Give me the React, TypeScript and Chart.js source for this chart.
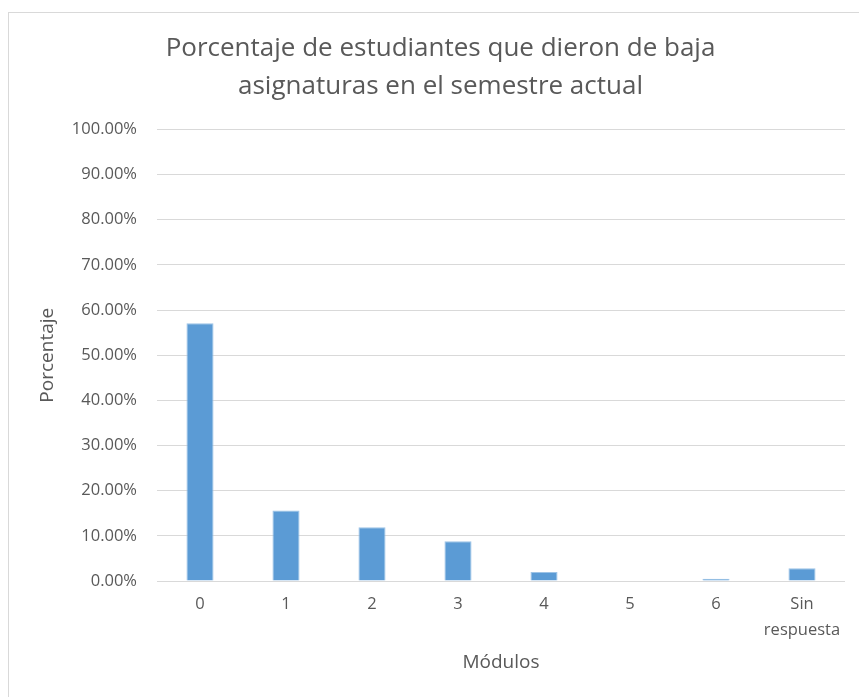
import React, { useEffect, useRef } from "react";
import { Chart, registerables } from "chart.js";

Chart.register(...registerables);

const categories: (string | string[])[] = ["0", "1", "2", "3", "4", "5", "6", ["Sin", "respuesta"]];
const percentages: number[] = [57.1, 15.6, 11.9, 8.8, 2.0, 0, 0.5, 2.8];
const titleLines: string[] = ["Porcentaje de estudiantes que dieron de baja", "asignaturas en el semestre actual"];
const xTitle = "Módulos";
const yTitle = "Porcentaje";

const FONT = "'Open Sans', 'Noto Sans', sans-serif";
const TEXT = "#595959";

export default function App() {
  const ref = useRef<HTMLCanvasElement | null>(null);
  useEffect(() => {
    if (!ref.current) return;
    const chart = new Chart(ref.current, {
      type: "bar",
      data: {
        labels: categories,
        datasets: [
          {
            data: percentages,
            backgroundColor: "#5b9bd5",
            borderColor: "#9dc3e6",
            borderWidth: 1,
            barPercentage: 0.63,
            categoryPercentage: 0.5,
          },
        ],
      },
      options: {
        animation: false,
        responsive: false,
        maintainAspectRatio: false,
        layout: { padding: { left: 36, right: 14, top: 10, bottom: 20 } },
        plugins: {
          legend: { display: false },
          tooltip: { enabled: false },
          title: {
            display: true,
            text: titleLines,
            color: TEXT,
            font: { family: FONT, size: 26, weight: "normal", lineHeight: 1.47 },
            padding: { top: 19, bottom: 24 },
          },
        },
        scales: {
          x: {
            grid: { display: false, drawTicks: false },
            border: { display: false },
            ticks: {
              color: TEXT,
              font: { family: FONT, size: 16.5, lineHeight: 1.55 },
              padding: 11,
              maxRotation: 0,
              autoSkip: false,
            },
            title: {
              display: true,
              text: xTitle,
              color: TEXT,
              font: { family: FONT, size: 19 },
              padding: { top: 0, bottom: 3 },
            },
            afterFit: (s: any) => {
              s.height = 96;
            },
          },
          y: {
            min: 0,
            max: 100,
            grid: { color: "#d9d9d9", drawTicks: false },
            border: { display: false },
            ticks: {
              stepSize: 10,
              color: TEXT,
              font: { family: FONT, size: 16.5 },
              padding: 20,
              callback: (v: any) => Number(v).toFixed(2) + "%",
            },
            title: {
              display: true,
              text: yTitle,
              color: TEXT,
              font: { family: FONT, size: 19 },
              padding: { top: 0, bottom: 0 },
            },
            afterFit: (s: any) => {
              s.width = 121;
            },
          },
        },
      },
    });
    return () => chart.destroy();
  }, []);
  return (
    <div style={{ position: "fixed", left: 0, top: 0, width: 859, height: 697, background: "#fff" }}>
      <div
        style={{
          position: "absolute",
          left: 8,
          top: 12,
          right: 0,
          bottom: 0,
          borderLeft: "1px solid #d9d9d9",
          borderTop: "1px solid #d9d9d9",
        }}
      />
      <canvas ref={ref} width={859} height={697} style={{ position: "absolute", left: 0, top: 0 }} />
    </div>
  );
}
